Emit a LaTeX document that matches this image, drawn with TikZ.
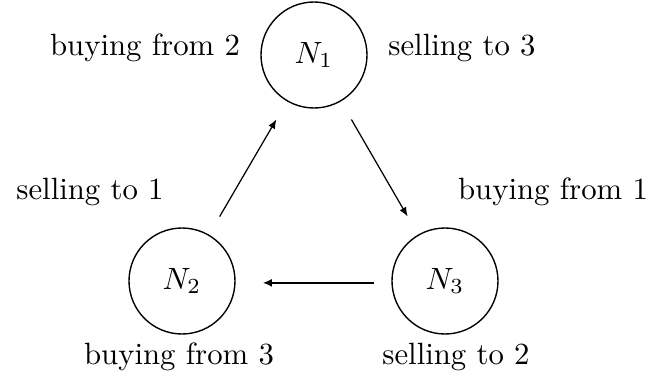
\documentclass[tikz,border=0pt]{standalone}
\usetikzlibrary{arrows.meta}
\begin{document}
\begin{tikzpicture}[x=0.325pt,y=-0.325pt,
  market/.style={draw,circle,line width=0.45pt,minimum size=106*0.325pt,inner sep=0pt,outer sep=0pt},
  lbl/.style={anchor=base,inner sep=0pt},
  flow/.style={-{Latex[length=3pt,width=2.4pt]},line width=0.4pt,shorten >=7pt,shorten <=7pt},
  thickflow/.style={-{Latex[length=3pt,width=2.6pt]},line width=0.7pt,shorten >=9pt,shorten <=6pt}]
\useasboundingbox (0,0) rectangle (658,383);
\node[market] (n1) at (314,55) {$N_1$};
\node[market] (n2) at (182,281) {$N_2$};
\node[market] (n3) at (445,281) {$N_3$};
\node[lbl] (l1) at (145,55) {buying from 2};
\node[lbl] (l2) at (462,55) {selling to 3};
\node[lbl] (l3) at (90,199) {selling to 1};
\node[lbl] (l4) at (553,199) {buying from 1};
\node[lbl] (l5) at (179,364) {buying from 3};
\node[lbl] (l6) at (456,364) {selling to 2};
\draw[flow] (n2) -- (n1);
\draw[flow] (n1) -- (n3);
\draw[thickflow] ([yshift=-0.6pt]n3.west) -- ([yshift=-0.6pt]n2.east);
\end{tikzpicture}
\end{document}
